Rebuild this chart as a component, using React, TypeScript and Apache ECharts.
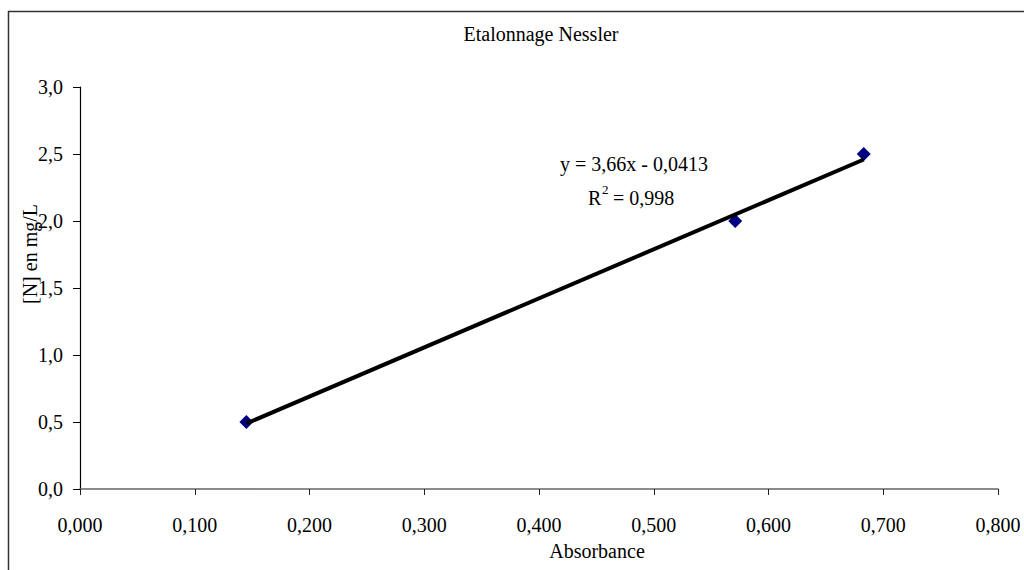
import React, { useEffect, useRef } from "react";
import * as echarts from "echarts";

const chartTitle = "Etalonnage Nessler";
const xAxisTitle = "Absorbance";
const yAxisTitle = "[N] en mg/L";
const equationText = "y = 3,66x - 0,0413";
const r2Value = "= 0,998";

const absorbance = [0.145, 0.571, 0.683];
const concentration = [0.5, 2.0, 2.5];
// Trendline end points
const trendX = [0.145, 0.683];
const trendY = [0.489, 2.459];

const FONT = "Liberation Serif";

export default function App() {
  const ref = useRef<HTMLDivElement>(null);
  useEffect(() => {
    if (!ref.current) return;
    const chart = echarts.init(ref.current, undefined, { renderer: "svg" });
    const points = absorbance.map((x, i) => [x, concentration[i]]);
    const trend = trendX.map((x, i) => [x, trendY[i]]);
    const txt = (x: number, y: number, text: string, opts: any = {}) => ({
      type: "text",
      x,
      y,
      rotation: opts.rotation || 0,
      style: {
        text,
        fontSize: opts.fontSize || 20,
        fontFamily: FONT,
        fill: "#000",
        align: opts.align || "center",
        verticalAlign: "middle",
      },
    });
    chart.setOption({
      animation: false,
      backgroundColor: "#ffffff",
      textStyle: { fontFamily: FONT },
      grid: { left: 80, right: 26, top: 87, bottom: 81 },
      xAxis: {
        type: "value",
        min: 0,
        max: 0.8,
        interval: 0.1,
        axisLine: { show: true, onZero: false, lineStyle: { color: "#666", width: 1.5 } },
        axisTick: { show: true, length: 6, lineStyle: { color: "#222", width: 1 } },
        splitLine: { show: false },
        axisLabel: {
          margin: 26,
          color: "#000",
          fontSize: 20,
          lineHeight: 20,
          fontFamily: FONT,
          formatter: (v: number) => v.toFixed(3).replace(".", ","),
        },
      },
      yAxis: {
        type: "value",
        min: 0,
        max: 3,
        interval: 0.5,
        axisLine: { show: true, onZero: false, lineStyle: { color: "#000", width: 1.2 } },
        axisTick: { show: true, length: 7, lineStyle: { color: "#000", width: 1 } },
        splitLine: { show: false },
        axisLabel: {
          margin: 17,
          color: "#000",
          fontSize: 20,
          fontFamily: FONT,
          formatter: (v: number) => v.toFixed(1).replace(".", ","),
        },
      },
      series: [
        {
          type: "scatter",
          data: points,
          symbol: "diamond",
          symbolSize: 14,
          itemStyle: { color: "#000080", opacity: 1 },
          z: 2,
        },
        {
          type: "line",
          data: trend,
          showSymbol: false,
          symbol: "none",
          lineStyle: { color: "#000", width: 4 },
          z: 3,
        },
      ],
      graphic: [
        {
          type: "line",
          shape: { x1: 8, y1: 11.5, x2: 1030, y2: 11.5 },
          style: { stroke: "#333", lineWidth: 1.5 },
        },
        {
          type: "line",
          shape: { x1: 8.5, y1: 11, x2: 8.5, y2: 580 },
          style: { stroke: "#333", lineWidth: 1.5 },
        },
        txt(541, 34, chartTitle),
        txt(597, 551, xAxisTitle),
        txt(30, 254, yAxisTitle, { rotation: Math.PI / 2 }),
        txt(634, 164, equationText),
        txt(588, 198, "R", { align: "left" }),
        txt(602, 189, "2", { align: "left", fontSize: 13 }),
        txt(613, 198, r2Value, { align: "left" }),
      ],
    });
    return () => chart.dispose();
  }, []);
  return (
    <div
      ref={ref}
      style={{ position: "fixed", left: 0, top: 0, width: 1024, height: 570 }}
    />
  );
}
